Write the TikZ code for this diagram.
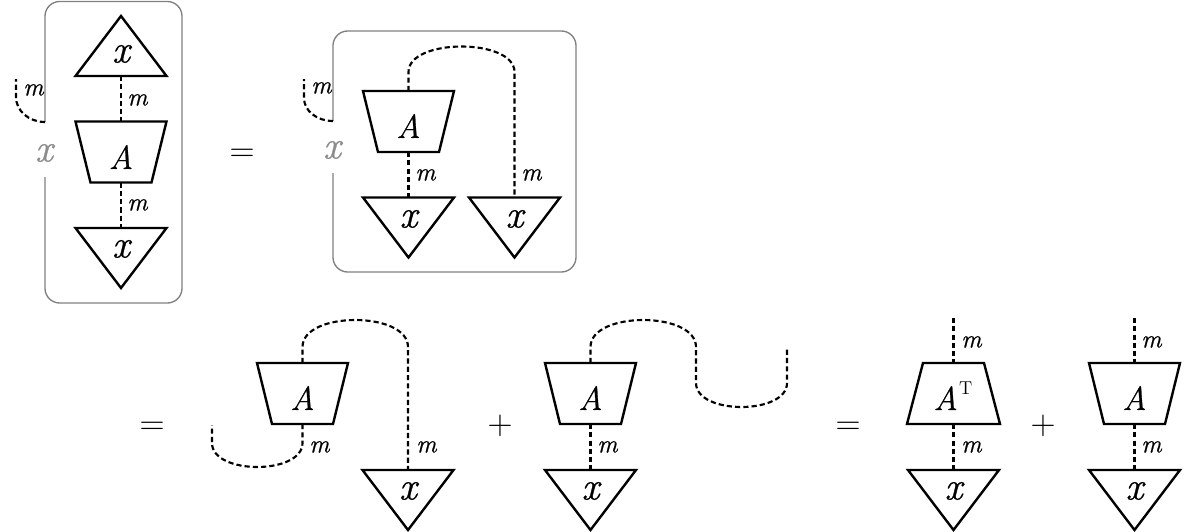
\documentclass[tikz,border=0pt]{standalone}
\usepackage{fontspec}
\setmainfont{Latin Modern Roman}[ItalicFeatures={FakeBold=0.8}]
\definecolor{boxgray}{RGB}{128,128,128}
\definecolor{lblgray}{RGB}{140,140,140}
\begin{document}
\begin{tikzpicture}[x=0.75pt,y=-0.75pt]
\tikzset{
 shp/.style={line width=1.8pt, line join=miter},
 wire/.style={line width=1.6pt, dash pattern=on 3.9pt off 2.3pt},
 frame/.style={line width=1pt, draw=boxgray, rounded corners=11pt},
 lx/.style={inner sep=0pt, font=\fontsize{29.5}{32}\selectfont\itshape},
 la/.style={inner sep=0pt, font=\fontsize{25}{28}\selectfont\itshape},
 lm/.style={inner sep=0pt, anchor=west, font=\fontsize{19}{21}\selectfont\itshape},
 op/.style={inner sep=0pt, anchor=base, font=\fontsize{26}{28}\selectfont},
 pics/triD/.style={code={
   \draw[shp] (-45.5,-30) -- (45.5,-30) -- (0,30) -- cycle;
   \coordinate (-n) at (0,-30);}},
 pics/triU/.style={code={
   \draw[shp] (-45.5,30) -- (45.5,30) -- (0,-30) -- cycle;
   \coordinate (-s) at (0,30);}},
 pics/trapA/.style={code={
   \draw[shp] (-45.5,-30.5) -- (45.5,-30.5) -- (30.5,30.5) -- (-30.5,30.5) -- cycle;
   \coordinate (-n) at (0,-30.5); \coordinate (-s) at (0,30.5);}},
 pics/trapT/.style={code={
   \draw[shp] (-30.5,-30.5) -- (30.5,-30.5) -- (46.5,30.5) -- (-46.5,30.5) -- cycle;
   \coordinate (-n) at (0,-30.5); \coordinate (-s) at (0,30.5);}},
}
\useasboundingbox (0,0) rectangle (1200,532);

% ---------- Panel 1 ----------
\coordinate (g1t) at (45,122);
\coordinate (g1b) at (45,177);
\draw[frame] (g1t) -- (45,1.5) -- (182,1.5) -- (182,303) -- (45,303) -- (g1b);
\node[lx, text=lblgray] (gx1) at (44,153) {x};
\coordinate (c1e) at (16,79);
\draw[wire] (g1t) .. controls (29,122) and (16,111) .. (16,97) -- (c1e);
\node[lm] (lm1) at (23,90) {m};

\pic (t1) at (121,46) {triU};
\pic (a1) at (121,152) {trapA};
\pic (b1) at (121,258) {triD};
\node[lx] (t1x) at (121,54) {x};
\node[la] (a1x) at (121,157) {A};
\node[lx] (b1x) at (121,249) {x};
\draw[wire] (t1-s) -- (a1-n);
\draw[wire] (a1-s) -- (b1-n);
\node[lm] (lm2) at (127,100) {m};
\node[lm] (lm3) at (127,205) {m};

\node[op] (eq1) at (242,161) {=};

% ---------- Panel 2 ----------
\coordinate (g2t) at (333,121);
\coordinate (g2b) at (333,173);
\draw[frame] (g2t) -- (333,31) -- (576,31) -- (576,272) -- (333,272) -- (g2b);
\node[lx, text=lblgray] (gx2) at (332,150) {x};
\coordinate (c2e) at (304,79);
\draw[wire] (g2t) .. controls (317,121) and (304,111) .. (304,98) -- (c2e);
\node[lm] (lm4) at (311,88) {m};

\pic (a2) at (408.5,121.5) {trapA};
\pic (b2) at (408.5,227.5) {triD};
\pic (c2) at (514.5,227.5) {triD};
\node[la] (a2x) at (408.5,126) {A};
\node[lx] (b2x) at (408.5,219) {x};
\node[lx] (c2x) at (514.5,219) {x};
\draw[wire] (a2-s) -- (b2-n);
\draw[wire] (a2-n) -- (408.5,72) .. controls (408.5,38) and (514.5,38) .. (514.5,72) -- (c2-n);
\node[lm] (lm5) at (415,175) {m};
\node[lm] (lm6) at (521,175) {m};

% ---------- Row 2 ----------
\node[op] (eq2) at (152,434) {=};

\pic (a3) at (302.5,393.5) {trapA};
\pic (b3) at (408,500) {triD};
\node[la] (a3x) at (302.5,398) {A};
\node[lx] (b3x) at (408,491) {x};
\coordinate (e3) at (212,425);
\draw[wire] (a3-n) -- (302.5,347) .. controls (302.5,311) and (408,311) .. (408,347) -- (b3-n);
\draw[wire] (a3-s) -- (302.5,443) .. controls (302.5,475) and (212,475) .. (212,443) -- (e3);
\node[lm] (lm7) at (309,447) {m};
\node[lm] (lm8) at (416,447) {m};

\node[op] (pl1) at (500,434) {+};

\pic (a4) at (590.5,393.5) {trapA};
\pic (b4) at (590.5,500) {triD};
\node[la] (a4x) at (590.5,398) {A};
\node[lx] (b4x) at (590.5,491) {x};
\coordinate (e4) at (787,348);
\draw[wire] (a4-n) -- (590.5,347) .. controls (590.5,311) and (696,311) .. (696,347)
  -- (696,383) .. controls (696,415) and (787,415) .. (787,383) -- (e4);
\draw[wire] (a4-s) -- (b4-n);
\node[lm] (lm9) at (597,447) {m};

\node[op] (eq3) at (848,434) {=};

\pic (a5) at (953.5,393.5) {trapT};
\pic (b5) at (953.5,500) {triD};
\node[la] (a5x) at (953,396) {A\kern1pt\raisebox{11.5pt}{\fontsize{14}{16}\selectfont\upshape T}};
\node[lx] (b5x) at (953.5,491) {x};
\coordinate (e5) at (953.5,318);
\draw[wire] (e5) -- (a5-n);
\draw[wire] (a5-s) -- (b5-n);
\node[lm] (lm10) at (961,342) {m};
\node[lm] (lm11) at (961,447) {m};

\node[op] (pl2) at (1043,434) {+};

\pic (a6) at (1134.5,393.5) {trapA};
\pic (b6) at (1134.5,500) {triD};
\node[la] (a6x) at (1134.5,398) {A};
\node[lx] (b6x) at (1134.5,491) {x};
\coordinate (e6) at (1134.5,318);
\draw[wire] (e6) -- (a6-n);
\draw[wire] (a6-s) -- (b6-n);
\node[lm] (lm12) at (1141,342) {m};
\node[lm] (lm13) at (1141,447) {m};
\end{tikzpicture}
\end{document}
